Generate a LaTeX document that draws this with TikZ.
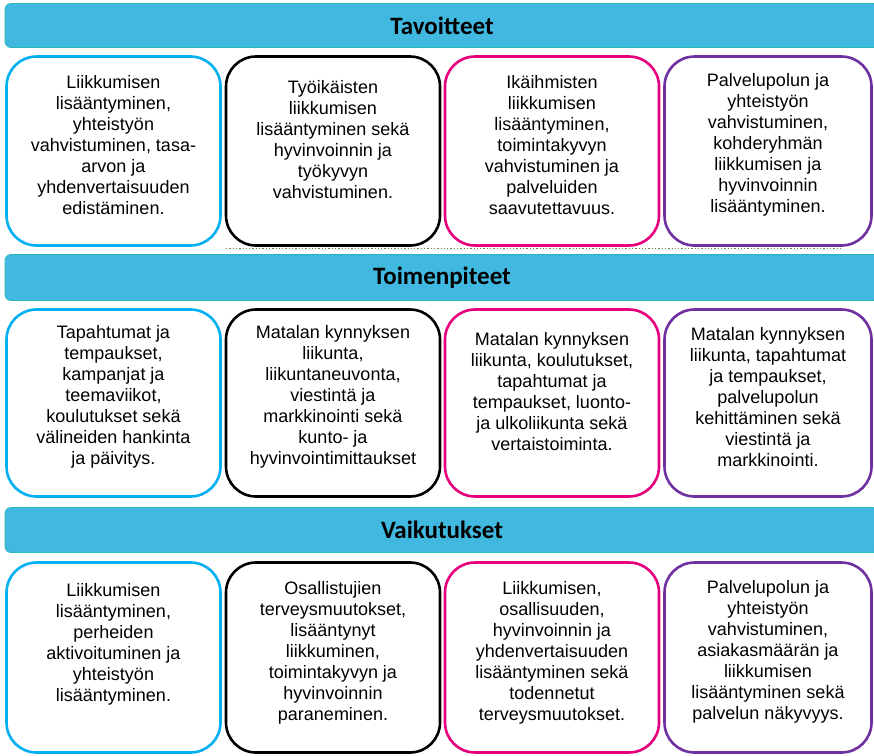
\documentclass[tikz,border=0pt]{standalone}
\usepackage{fontspec}
\setmainfont{Liberation Sans}
\newfontfamily\headfont{Carlito}
\definecolor{headfill}{RGB}{64,184,224}
\definecolor{headline}{RGB}{40,182,188}
\definecolor{cblue}{RGB}{0,176,240}
\definecolor{cpink}{RGB}{230,0,126}
\definecolor{cpurple}{RGB}{112,48,160}
\definecolor{dotgreen}{RGB}{100,135,60}

\begin{document}
\begin{tikzpicture}
	[x=1pt,y=-1pt,
	 header/.style={draw=headline, fill=headfill, line width=0.8pt, rounded corners=6pt, minimum width=874pt, font=\headfont\bfseries\fontsize{25}{28}\selectfont},
	 box/.style={line width=2.6pt, rounded corners=30pt, minimum width=214pt, minimum height=189pt, fill=white},
	 boxtext/.style={align=center, inner sep=0pt, font=\fontsize{18}{21}\selectfont}];

	\useasboundingbox (0,0) rectangle (874,755);

	%Headers
	\node[header, minimum height=44pt] (h1) at (442,25.5) {Tavoitteet};
	\node[header, minimum height=46pt] (h2) at (442,277.5) {Toimenpiteet};
	\node[header, minimum height=45pt] (h3) at (442,530) {Vaikutukset};

	%Tavoitteet
	\node[box, draw=cblue] (t1) at (113.5,151) {};
	\node[box, draw=black] (t2) at (333,151) {};
	\node[box, draw=cpink] (t3) at (552,151) {};
	\node[box, draw=cpurple, minimum width=207pt] (t4) at (768,151) {};
	\coordinate (dl) at (226,248.5);
	\coordinate (dr) at (842,248.5);
	\draw[dotgreen, dotted, line width=1.3pt] (dl) -- (dr);
	\node[boxtext] (tt1) at (113.5,145) {Liikkumisen\\lisääntyminen,\\yhteistyön\\vahvistuminen, tasa-\\arvon ja\\yhdenvertaisuuden\\edistäminen.};
	\node[boxtext] (tt2) at (333,140) {Työikäisten\\liikkumisen\\lisääntyminen sekä\\hyvinvoinnin ja\\työkyvyn\\vahvistuminen.};
	\node[boxtext] (tt3) at (552,145) {Ikäihmisten\\liikkumisen\\lisääntyminen,\\toimintakyvyn\\vahvistuminen ja\\palveluiden\\saavutettavuus.};
	\node[boxtext] (tt4) at (768,145) {Palvelupolun ja\\yhteistyön\\vahvistuminen,\\kohderyhmän\\liikkumisen ja\\hyvinvoinnin\\lisääntyminen.};

	%Toimenpiteet
	\node[box, draw=cblue, minimum height=187pt] (m1) at (113.5,403) {};
	\node[box, draw=black, minimum height=187pt] (m2) at (333,403) {};
	\node[box, draw=cpink, minimum height=187pt] (m3) at (552,403) {};
	\node[box, draw=cpurple, minimum height=187pt, minimum width=207pt] (m4) at (768,403) {};
	\node[boxtext] (mt1) at (113.5,397) {Tapahtumat ja\\tempaukset,\\kampanjat ja\\teemaviikot,\\koulutukset sekä\\välineiden hankinta\\ja päivitys.};
	\node[boxtext] (mt2) at (333,397) {Matalan kynnyksen\\liikunta,\\liikuntaneuvonta,\\viestintä ja\\markkinointi sekä\\kunto- ja\\hyvinvointimittaukset};
	\node[boxtext] (mt3) at (552,392) {Matalan kynnyksen\\liikunta, koulutukset,\\tapahtumat ja\\tempaukset, luonto-\\ja ulkoliikunta sekä\\vertaistoiminta.};
	\node[boxtext] (mt4) at (768,397) {Matalan kynnyksen\\liikunta, tapahtumat\\ja tempaukset,\\palvelupolun\\kehittäminen sekä\\viestintä ja\\markkinointi.};

	%Vaikutukset
	\node[box, draw=cblue, minimum height=190pt] (v1) at (113.5,657.5) {};
	\node[box, draw=black, minimum height=190pt] (v2) at (333,657.5) {};
	\node[box, draw=cpink, minimum height=190pt] (v3) at (552,657.5) {};
	\node[box, draw=cpurple, minimum height=190pt, minimum width=207pt] (v4) at (768,657.5) {};
	\node[boxtext] (vt1) at (113.5,644.5) {Liikkumisen\\lisääntyminen,\\perheiden\\aktivoituminen ja\\yhteistyön\\lisääntyminen.};
	\node[boxtext] (vt2) at (333,653) {Osallistujien\\terveysmuutokset,\\lisääntynyt\\liikkuminen,\\toimintakyvyn ja\\hyvinvoinnin\\paraneminen.};
	\node[boxtext] (vt3) at (552,653) {Liikkumisen,\\osallisuuden,\\hyvinvoinnin ja\\yhdenvertaisuuden\\lisääntyminen sekä\\todennetut\\terveysmuutokset.};
	\node[boxtext] (vt4) at (768,652) {Palvelupolun ja\\yhteistyön\\vahvistuminen,\\asiakasmäärän ja\\liikkumisen\\lisääntyminen sekä\\palvelun näkyvyys.};
\end{tikzpicture}
\end{document}
